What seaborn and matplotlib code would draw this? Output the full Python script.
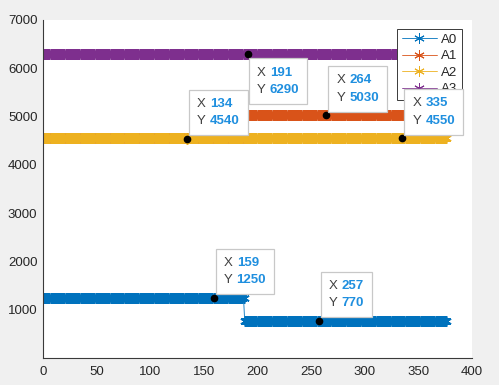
import numpy as np
import pandas as pd
import matplotlib
matplotlib.use("Agg")
import matplotlib.pyplot as plt
import seaborn as sns
from matplotlib.offsetbox import TextArea, HPacker, VPacker, AnnotationBbox

# ---------------- data ----------------
series_names = ["A0", "A1", "A2", "A3"]
series_colors = ["#0072BD", "#D95319", "#EDB120", "#7E2F8E"]
first_sample = 1
last_sample = 376
step_sample = 188                       # sample where A0 / A1 change level
level_before = [1250, 4550, 4550, 6300]
level_after = [770, 5030, 4550, 6300]

tip_series = ["A3", "A1", "A2", "A2", "A0", "A0"]
tip_x = [191, 264, 134, 335, 159, 257]
tip_y = [6290, 5030, 4540, 4550, 1250, 770]
tip_below = [True, False, False, False, False, False]

x_ticks = [0, 50, 100, 150, 200, 250, 300, 350, 400]
y_ticks = [1000, 2000, 3000, 4000, 5000, 6000, 7000]

# ---------------- build table ----------------
samples = np.arange(first_sample, last_sample + 1)
frames = []
for name, lb, la in zip(series_names, level_before, level_after):
    vals = np.where(samples < step_sample, lb, la).astype(float)
    for s, tx, ty in zip(tip_series, tip_x, tip_y):
        if s == name:
            vals[samples == tx] = ty
    frames.append(pd.DataFrame({"x": samples, "y": vals, "series": name}))
df = pd.concat(frames, ignore_index=True)

# ---------------- figure ----------------
sns.set_style("white")
plt.rcParams["font.family"] = ["Liberation Sans", "DejaVu Sans"]

fig = plt.figure(figsize=(4.99, 3.85), dpi=100, facecolor="#f0f0f0")
ax = fig.add_axes([43 / 499, 27 / 385, 429 / 499, 338 / 385])
ax.set_facecolor("white")

for name, col in zip(series_names, series_colors):
    sub = df[df["series"] == name]
    sns.lineplot(data=sub, x="x", y="y", color=col, marker=(6, 2, 0),
                 markersize=7.5, markeredgecolor=col, markeredgewidth=1.2,
                 linewidth=0.6, label=name, ax=ax)
for ln in ax.get_lines():
    ln.set_snap(False)

ax.plot(tip_x, tip_y, "o", color="black", ms=4.5, zorder=6)

ax.set_xlim(0, 400)
ax.set_ylim(0, 7000)
ax.set_xticks(x_ticks)
ax.set_yticks(y_ticks)
ax.set_xlabel("")
ax.set_ylabel("")
sns.despine(ax=ax)
for sp in ("left", "bottom"):
    ax.spines[sp].set_color("#3a3a3a")
    ax.spines[sp].set_linewidth(0.8)
ax.tick_params(direction="in", length=3.5, width=0.8, color="#3a3a3a",
               labelcolor="#262626", labelsize=9.5)
ax.tick_params(axis="x", pad=6)
ax.tick_params(axis="y", pad=4)

leg = ax.legend(loc="upper right", bbox_to_anchor=(0.977, 0.973),
                fontsize=9.5, handlelength=2.7, labelspacing=0.32,
                borderpad=0.35, borderaxespad=0, fancybox=False,
                framealpha=1, edgecolor="#3a3a3a", handletextpad=0.3)
leg.get_frame().set_linewidth(0.7)
leg.set_zorder(5)
for h in leg.legend_handles:
    h.set_markeredgewidth(0.7)

num_color = "#1F8FDF"
lab_color = "#404040"
for tx, ty, below in zip(tip_x, tip_y, tip_below):
    r1 = HPacker(children=[TextArea("X", textprops=dict(color=lab_color, size=9.5)),
                           TextArea(str(tx), textprops=dict(color=num_color, size=9.5, weight="bold"))],
                 sep=3, pad=0, align="baseline")
    r2 = HPacker(children=[TextArea("Y", textprops=dict(color=lab_color, size=9.5)),
                           TextArea(str(ty), textprops=dict(color=num_color, size=9.5, weight="bold"))],
                 sep=3, pad=0, align="baseline")
    box = VPacker(children=[r1, r2], sep=3.8, pad=5.8, align="left")
    if below:
        xybox, align = (0.5, -3), (0, 1)
    else:
        xybox, align = (1.5, 2.5), (0, 0)
    ab = AnnotationBbox(box, (tx, ty), xybox=xybox, boxcoords="offset points",
                        box_alignment=align, pad=0, frameon=True,
                        bboxprops=dict(boxstyle="square,pad=0", edgecolor="#c8c8c8",
                                       facecolor="white", lw=0.9))
    ab.set_zorder(10)
    ax.add_artist(ab)

fig.savefig("out.png", dpi=100, facecolor=fig.get_facecolor())
